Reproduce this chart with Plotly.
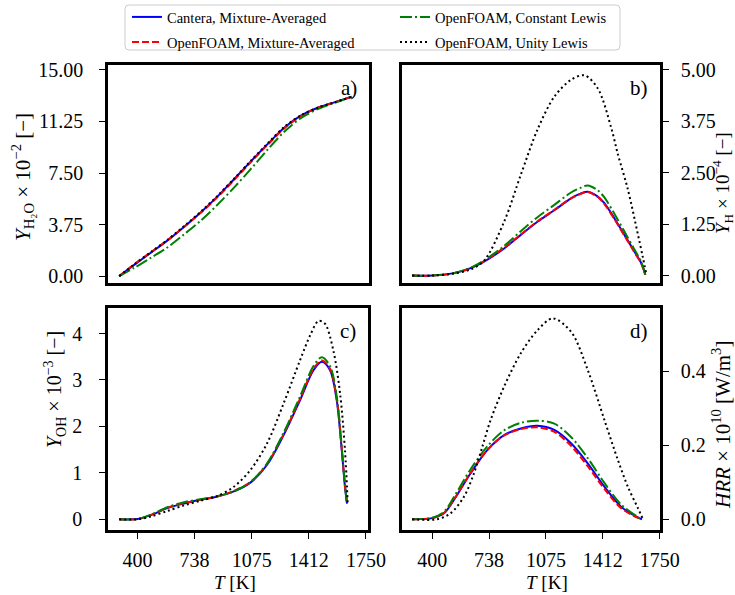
import plotly.graph_objects as go

W, H = 735, 595

# ---------------- data ----------------
series_names = ["Cantera, Mixture-Averaged", "OpenFOAM, Mixture-Averaged",
                "OpenFOAM, Constant Lewis", "OpenFOAM, Unity Lewis"]

x_tickvals = [400, 737.5, 1075, 1412.5, 1750]
x_ticktext = ["400", "738", "1075", "1412", "1750"]

# panel a: Y_H2O x 1e-2
T_a = [292, 380, 480, 577, 675, 773, 871, 969, 1067, 1165, 1263, 1361, 1460, 1558, 1660]
a_cantera = [0, 0.82, 1.72, 2.6, 3.6, 4.65, 5.8, 7.07, 8.35, 9.6, 10.8, 11.67, 12.25, 12.64, 13.05]
a_of_ma   = [0, 0.86, 1.76, 2.62, 3.6, 4.63, 5.75, 7.0, 8.3, 9.55, 10.75, 11.65, 12.25, 12.64, 13.05]
a_of_cle  = [0, 0.6, 1.35, 2.1, 3.05, 4.05, 5.2, 6.46, 7.8, 9.2, 10.5, 11.5, 12.15, 12.6, 13.05]
a_of_ule  = [0, 0.84, 1.76, 2.65, 3.65, 4.7, 5.85, 7.1, 8.4, 9.65, 10.85, 11.7, 12.25, 12.64, 13.05]
a_ticks = [0, 3.75, 7.5, 11.25, 15]
a_ticktext = ["0.00", "3.75", "7.50", "11.25", "15.00"]

# panel b: Y_H x 1e-4
T_b = [281, 400, 529, 628, 708, 827, 926, 1025, 1125, 1224, 1283, 1323, 1383, 1422, 1482, 1541, 1601, 1641, 1665]
b_cantera = [0, 0, 0.06, 0.18, 0.34, 0.66, 0.99, 1.31, 1.59, 1.88, 2.0, 2.04, 1.92, 1.76, 1.39, 0.99, 0.58, 0.3, 0.02]
b_of_ma   = [0, 0, 0.06, 0.18, 0.35, 0.68, 1.0, 1.32, 1.6, 1.88, 1.99, 2.03, 1.91, 1.74, 1.37, 0.97, 0.56, 0.29, 0.02]
b_of_cle  = [0, 0, 0.06, 0.19, 0.37, 0.72, 1.08, 1.42, 1.72, 2.02, 2.14, 2.19, 2.07, 1.9, 1.5, 1.07, 0.63, 0.33, 0.02]
T_bu = [281, 400, 529, 628, 708, 827, 926, 1025, 1125, 1224, 1303, 1383, 1462, 1502, 1561, 1621, 1650, 1670]
b_of_ule  = [0, 0, 0.05, 0.15, 0.36, 1.31, 2.45, 3.55, 4.35, 4.76, 4.87, 4.55, 3.6, 2.95, 2.1, 1.0, 0.45, 0.05]
b_ticks = [0, 1.25, 2.5, 3.75, 5]
b_ticktext = ["0.00", "1.25", "2.50", "3.75", "5.00"]

# panel c: Y_OH x 1e-3
T_c = [292, 400, 478, 577, 675, 773, 871, 969, 1067, 1165, 1263, 1361, 1440, 1489, 1538, 1577, 1607, 1626, 1638]
c_cantera = [0, 0.005, 0.09, 0.24, 0.34, 0.42, 0.49, 0.6, 0.79, 1.17, 1.81, 2.57, 3.21, 3.39, 3.21, 2.57, 1.49, 0.7, 0.34]
c_of_ma   = [0, 0.005, 0.09, 0.25, 0.35, 0.42, 0.49, 0.61, 0.8, 1.19, 1.83, 2.6, 3.24, 3.42, 3.24, 2.6, 1.52, 0.72, 0.35]
c_of_cle  = [0, 0.01, 0.1, 0.26, 0.37, 0.43, 0.5, 0.6, 0.8, 1.2, 1.86, 2.65, 3.3, 3.49, 3.3, 2.65, 1.55, 0.72, 0.35]
T_cu = [292, 400, 478, 577, 675, 773, 871, 969, 1067, 1165, 1263, 1361, 1420, 1469, 1508, 1557, 1597, 1626, 1642]
c_of_ule  = [0, 0.0, 0.06, 0.18, 0.3, 0.4, 0.5, 0.7, 1.06, 1.63, 2.49, 3.43, 3.96, 4.27, 4.21, 3.64, 2.71, 1.49, 0.34]
c_ticks = [0, 1, 2, 3, 4]
c_ticktext = ["0", "1", "2", "3", "4"]

# panel d: HRR x 1e10
T_d = [281, 400, 470, 529, 628, 728, 827, 926, 1025, 1125, 1224, 1323, 1422, 1521, 1620, 1645]
d_cantera = [0, 0.003, 0.016, 0.052, 0.124, 0.187, 0.227, 0.245, 0.252, 0.241, 0.205, 0.151, 0.088, 0.034, 0.005, 0]
d_of_ma   = [0, 0.003, 0.017, 0.053, 0.125, 0.187, 0.226, 0.243, 0.248, 0.236, 0.198, 0.143, 0.082, 0.03, 0.004, 0]
d_of_cle  = [0, 0.004, 0.02, 0.06, 0.135, 0.197, 0.24, 0.26, 0.266, 0.258, 0.222, 0.165, 0.098, 0.04, 0.006, 0]
T_du = [281, 430, 509, 589, 648, 698, 747, 827, 926, 1025, 1115, 1224, 1323, 1422, 1502, 1561, 1621, 1651]
d_of_ule  = [0, 0, 0.016, 0.061, 0.124, 0.196, 0.268, 0.358, 0.448, 0.51, 0.542, 0.506, 0.403, 0.268, 0.16, 0.088, 0.03, 0.0]
d_ticks = [0, 0.2, 0.4]
d_ticktext = ["0.0", "0.2", "0.4"]

# ---------------- styling ----------------
FONT = "Liberation Serif, Times New Roman, serif"
TICK_SIZE = 20
colors = ["#0000ff", "#ff0000", "#008000", "#000000"]
dashes = ["solid", "7px,3px", "12px,3px,2px,3px", "2px,3px"]
legend_ids = ["legend", "legend2", "legend3", "legend4"]
# legend entry anchor positions (px): col1 = Cantera / OF-MA, col2 = Const / Unity
legend_pos = [(127, 1), (127, 26), (395, 1), (395, 26)]


def px_x(p):
    return p / W


def px_y(p):
    return 1 - p / H


panels = [
    dict(T=[T_a, T_a, T_a, T_a], Y=[a_cantera, a_of_ma, a_of_cle, a_of_ule],
         dom_x=(108, 369), dom_y=(65, 283), xr=[226, 1762], yr=[-0.5, 15.36],
         yt=a_ticks, ytt=a_ticktext, side="left", xlabels=False, lab="a)", ystand=12),
    dict(T=[T_b, T_b, T_b, T_bu], Y=[b_cantera, b_of_ma, b_of_cle, b_of_ule],
         dom_x=(402, 660), dom_y=(65, 283), xr=[221, 1752], yr=[-0.18, 5.12],
         yt=b_ticks, ytt=b_ticktext, side="right", xlabels=False, lab="b)", ystand=8),
    dict(T=[T_c, T_c, T_c, T_cu], Y=[c_cantera, c_of_ma, c_of_cle, c_of_ule],
         dom_x=(108, 368), dom_y=(308, 530), xr=[226, 1762], yr=[-0.23, 4.55],
         yt=c_ticks, ytt=c_ticktext, side="left", xlabels=True, lab="c)", ystand=13),
    dict(T=[T_d, T_d, T_d, T_du], Y=[d_cantera, d_of_ma, d_of_cle, d_of_ule],
         dom_x=(402, 660), dom_y=(308, 530), xr=[221, 1752], yr=[-0.029, 0.57],
         yt=d_ticks, ytt=d_ticktext, side="right", xlabels=True, lab="d)", ystand=8),
]

fig = go.Figure()
layout = dict(
    width=W, height=H, margin=dict(l=0, r=0, t=0, b=0),
    paper_bgcolor="white", plot_bgcolor="white",
    font=dict(family=FONT, size=16, color="black"),
    showlegend=True,
)
for lid, (lx, ly) in zip(legend_ids, legend_pos):
    layout[lid] = dict(x=px_x(lx), xanchor="left", y=px_y(ly), yanchor="top",
                       bgcolor="rgba(0,0,0,0)", borderwidth=0,
                       font=dict(family=FONT, size=14.5), itemwidth=30)
annotations = []

for i, p in enumerate(panels):
    n = i + 1
    xa = "x" if n == 1 else f"x{n}"
    ya = "y" if n == 1 else f"y{n}"
    for k in range(4):
        fig.add_trace(go.Scatter(
            x=p["T"][k], y=p["Y"][k], xaxis=xa, yaxis=ya, mode="lines",
            line=dict(color=colors[k], width=2, dash=dashes[k], shape="spline", smoothing=0.9),
            name=series_names[k], showlegend=(n == 1), legend=legend_ids[k],
            hoverinfo="skip"))
    xkey = "xaxis" if n == 1 else f"xaxis{n}"
    ykey = "yaxis" if n == 1 else f"yaxis{n}"
    layout[xkey] = dict(
        domain=[px_x(p["dom_x"][0]), px_x(p["dom_x"][1])], range=p["xr"], anchor=ya,
        showgrid=False, zeroline=False, showline=True, linecolor="black", linewidth=2.5,
        mirror=True, automargin=False,
        tickmode="array", tickvals=x_tickvals, ticktext=x_ticktext,
        ticks="outside" if p["xlabels"] else "", ticklen=6, tickwidth=1.2, tickcolor="black",
        showticklabels=p["xlabels"], tickfont=dict(family=FONT, size=TICK_SIZE),
        ticklabelstandoff=4,
    )
    layout[ykey] = dict(
        domain=[px_y(p["dom_y"][1]), px_y(p["dom_y"][0])], range=p["yr"], anchor=xa,
        side=p["side"],
        showgrid=False, zeroline=False, showline=True, linecolor="black", linewidth=2.5,
        mirror=True, automargin=False,
        tickmode="array", tickvals=p["yt"], ticktext=p["ytt"],
        ticks="outside", ticklen=6, tickwidth=1.2, tickcolor="black",
        tickfont=dict(family=FONT, size=TICK_SIZE), ticklabelstandoff=p["ystand"],
    )
    # panel letter
    annotations.append(dict(text=p["lab"], xref="paper", yref="paper",
                            x=px_x(p["dom_x"][1] - 10), y=px_y(p["dom_y"][0] + 9),
                            xanchor="right", yanchor="top", showarrow=False,
                            font=dict(family=FONT, size=21)))

# axis titles as annotations: (text, x px, y px, font size)
ytitles = [
    ("<i>Y</i><sub>H₂O</sub> × 10<sup>−2</sup> [−]", 22, 177, 21),
    ("<i>Y</i><sub>H</sub> × 10<sup>−4</sup> [−]", 722, 183, 19),
    ("<i>Y</i><sub>OH</sub> × 10<sup>−3</sup> [−]", 55, 390, 20),
    ("<i>HRR</i> × 10<sup>10</sup> [W/m<sup>3</sup>]", 721, 425, 21),
]
for txt, xx, yy, fs in ytitles:
    annotations.append(dict(text=txt, xref="paper", yref="paper", x=px_x(xx), y=px_y(yy),
                            xanchor="center", yanchor="middle", textangle=-90, showarrow=False,
                            font=dict(family=FONT, size=fs)))
for xx in (235, 547):
    annotations.append(dict(text="<i>T</i> [K]", xref="paper", yref="paper", x=px_x(xx),
                            y=px_y(582), xanchor="center", yanchor="middle", showarrow=False,
                            font=dict(family=FONT, size=19)))

# legend frame (rounded rectangle)
x0, x1 = px_x(125), px_x(620)
y0, y1 = px_y(50), px_y(5)
rx, ry = 4 / W, 4 / H
frame_path = (f"M{x0 + rx},{y0} L{x1 - rx},{y0} Q{x1},{y0} {x1},{y0 + ry} "
              f"L{x1},{y1 - ry} Q{x1},{y1} {x1 - rx},{y1} L{x0 + rx},{y1} "
              f"Q{x0},{y1} {x0},{y1 - ry} L{x0},{y0 + ry} Q{x0},{y0} {x0 + rx},{y0} Z")
layout["shapes"] = [dict(type="path", path=frame_path, xref="paper", yref="paper",
                         line=dict(color="#cccccc", width=1), fillcolor="white", layer="below")]

layout["annotations"] = annotations
fig.update_layout(**layout)
fig.write_html("out.html")
